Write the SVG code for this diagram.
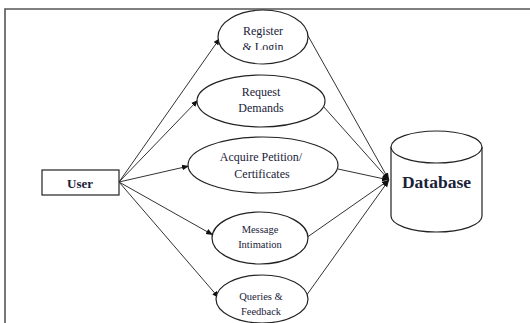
<svg xmlns="http://www.w3.org/2000/svg" width="530" height="323" viewBox="0 0 530 323">
<style>
.n{fill:#fff;stroke:#222;stroke-width:1.2}
.t{font-family:"Liberation Serif","Times New Roman",Times,serif;font-size:12px;fill:#1a2238;text-anchor:middle}
.s{font-size:10.5px}
.b{font-weight:bold}
.u{font-size:13px}
.d{font-size:17.5px}
.c line{stroke:#333;stroke-width:1}
</style>
<defs>
<marker id="a" viewBox="0 0 10 10" refX="10" refY="5" markerWidth="7" markerHeight="7" orient="auto" markerUnits="userSpaceOnUse"><path d="M0,1 L10,5 L0,9 z" fill="#111"/></marker>
<clipPath id="clip1"><rect x="200" y="10" width="130" height="40"/></clipPath>
</defs>
<rect width="530" height="323" fill="#fff"/>
<path d="M5,323 V9 H530" fill="none" stroke="#555" stroke-width="1.6"/>
<g class="c">
<line x1="119" y1="182" x2="220" y2="38" marker-end="url(#a)"/>
<line x1="119" y1="182" x2="198" y2="100" marker-end="url(#a)"/>
<line x1="119" y1="182" x2="189" y2="166" marker-end="url(#a)"/>
<line x1="119" y1="182" x2="213" y2="235" marker-end="url(#a)"/>
<line x1="119" y1="182" x2="219" y2="298" marker-end="url(#a)"/>
<line x1="307" y1="34" x2="389" y2="180" marker-end="url(#a)"/>
<line x1="323" y1="106" x2="389" y2="180" marker-end="url(#a)"/>
<line x1="338" y1="169" x2="389" y2="180" marker-end="url(#a)"/>
<line x1="306" y1="238" x2="389" y2="180" marker-end="url(#a)"/>
<line x1="306" y1="296" x2="389" y2="180" marker-end="url(#a)"/>
</g>
<g id="user"><rect class="n" x="42" y="170" width="77" height="25"/><text class="t b u" x="80" y="188">User</text></g>
<g id="register"><ellipse class="n" cx="263" cy="37" rx="45" ry="27"/><g clip-path="url(#clip1)"><text class="t" x="263" y="35">Register</text><text class="t" x="263" y="51">&amp; Login</text></g></g>
<g id="request"><ellipse class="n" cx="261" cy="101" rx="64" ry="26"/><text class="t" x="261" y="96">Request</text><text class="t" x="261" y="112">Demands</text></g>
<g id="acquire"><ellipse class="n" cx="263" cy="165" rx="75" ry="28"/><text class="t" x="261" y="161">Acquire Petition/</text><text class="t" x="262" y="178">Certificates</text></g>
<g id="message"><ellipse class="n" cx="260" cy="238" rx="48" ry="26"/><text class="t s" x="260" y="233">Message</text><text class="t s" x="260" y="248">Intimation</text></g>
<g id="queries"><ellipse class="n" cx="262" cy="299" rx="46" ry="24"/><text class="t s" x="261" y="300">Queries &amp;</text><text class="t s" x="261" y="315">Feedback</text></g>
<g id="database">
<path class="n" d="M391,147 V216 A45.5,16 0 0 0 482,216 V147"/>
<ellipse class="n" cx="436.5" cy="147" rx="45.5" ry="16"/>
<text class="t b d" x="436.5" y="188">Database</text>
</g>
</svg>
